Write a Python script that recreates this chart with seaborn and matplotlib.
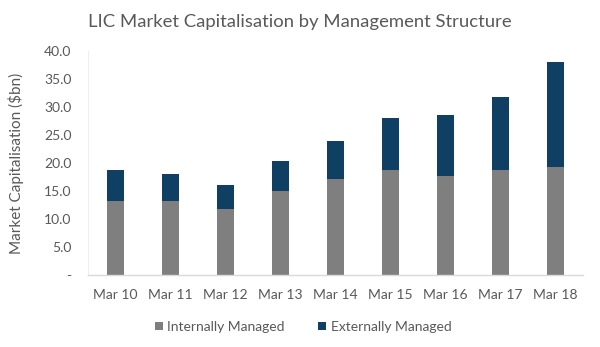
import matplotlib
matplotlib.use("Agg")
import matplotlib.pyplot as plt
from matplotlib.patches import Patch
from matplotlib.ticker import FuncFormatter
import seaborn as sns
import pandas as pd

periods = ["Mar 10", "Mar 11", "Mar 12", "Mar 13", "Mar 14",
           "Mar 15", "Mar 16", "Mar 17", "Mar 18"]
internally_managed = [13.3, 13.2, 11.8, 15.0, 17.2, 18.8, 17.6, 18.8, 19.3]
externally_managed = [5.5, 4.8, 4.2, 5.3, 6.8, 9.2, 11.0, 12.9, 18.7]

GREY = "#7f7f7f"
NAVY = "#0f3f63"
TEXT = "#595959"

df = pd.DataFrame({
    "period": periods,
    "internal": internally_managed,
    "external": externally_managed,
})
df["total"] = df["internal"] + df["external"]

sns.set_theme(style="white")
plt.rcParams["font.family"] = ["Lato", "DejaVu Sans"]

fig = plt.figure(figsize=(6.0, 3.47), dpi=100)
ax = fig.add_axes([0.1467, 0.2075, 0.825, 0.6455])

# stacked columns: full height in navy, internal share drawn over it in grey
sns.barplot(data=df, x="period", y="total", color=NAVY, width=0.31,
            saturation=1, ax=ax, edgecolor="none")
sns.barplot(data=df, x="period", y="internal", color=GREY, width=0.31,
            saturation=1, ax=ax, edgecolor="none")

ax.set_xlim(-0.5, len(periods) - 0.5)
ax.set_ylim(0, 40)
ax.set_yticks([0, 5, 10, 15, 20, 25, 30, 35, 40])
ax.yaxis.set_major_formatter(
    FuncFormatter(lambda v, _: "-" if v == 0 else f"{v:.1f}"))

for s in ["top", "right"]:
    ax.spines[s].set_visible(False)
ax.spines["left"].set_color("#eeeeee")
ax.spines["left"].set_linewidth(0.8)
ax.spines["bottom"].set_color("#d9d9d9")
ax.spines["bottom"].set_linewidth(1.0)

ax.tick_params(axis="y", length=0, pad=12, labelsize=10, labelcolor=TEXT)
ax.tick_params(axis="x", length=0, pad=10, labelsize=10, labelcolor=TEXT)
ax.set_xlabel("")
ax.set_ylabel("Market Capitalisation ($bn)", fontsize=11, color=TEXT,
              labelpad=14)

fig.text(0.5, 0.938, "LIC Market Capitalisation by Management Structure",
         ha="center", va="center", fontsize=13.3, color=TEXT)

handles = [Patch(facecolor=GREY, edgecolor="none", label="Internally Managed"),
           Patch(facecolor=NAVY, edgecolor="none", label="Externally Managed")]
fig.legend(handles=handles, loc="center", bbox_to_anchor=(0.505, 0.058),
           ncol=2, frameon=False, fontsize=10, handlelength=0.6,
           handleheight=0.6, handletextpad=0.3, columnspacing=2.4,
           labelcolor=TEXT)

fig.savefig("out.png", dpi=100, facecolor="white")
